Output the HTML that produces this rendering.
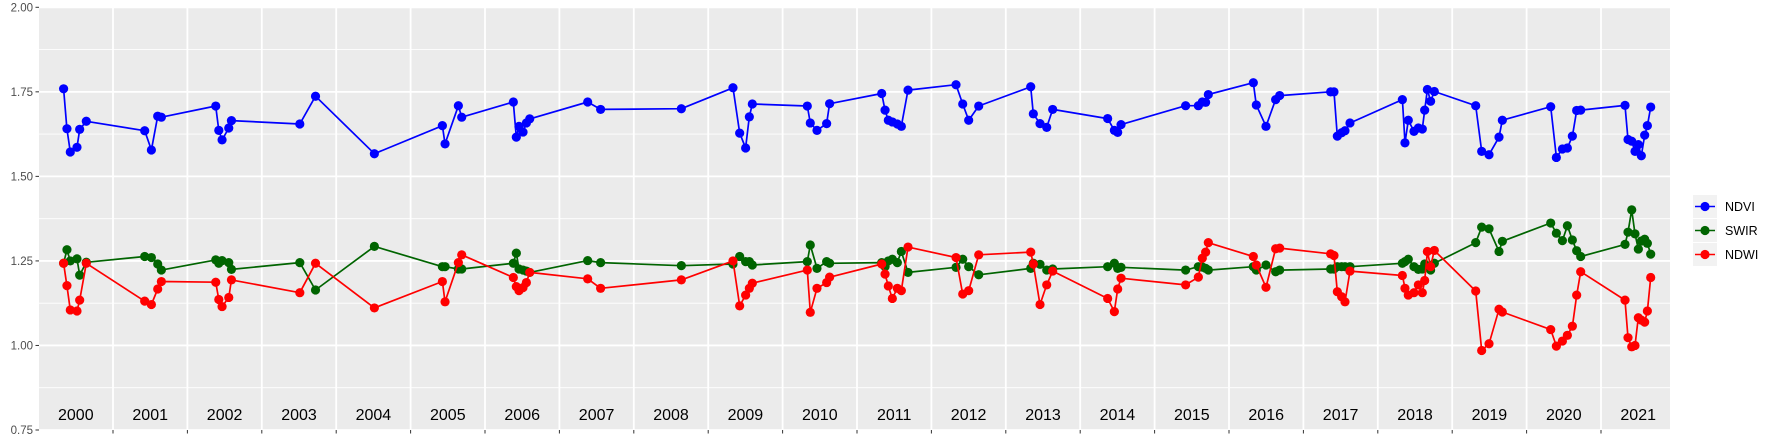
<!DOCTYPE html>
<html><head><meta charset="utf-8"><style>
html,body{margin:0;padding:0;background:#fff;}
svg{display:block;font-family:"Liberation Sans",Arial,sans-serif;}
</style></head><body>
<svg id="chart" width="1773" height="442" viewBox="0 0 1773 442" xmlns="http://www.w3.org/2000/svg">
<rect x="39" y="7.3" width="1631" height="422.7" fill="#ebebeb"/>
<g id="grid"></g>
<g id="yaxis"></g>
<g id="xaxis"></g>
<g id="series"></g>
<g>
  <g>
    <rect x="1693" y="195" width="24" height="23" fill="#f2f2f2"/>
    <line x1="1695" y1="206.5" x2="1715" y2="206.5" stroke="#0000ff" stroke-width="1.6"/>
    <circle cx="1705" cy="206.5" r="4.6" fill="#0000ff"/>
    <text x="1725" y="211" font-size="12.5" fill="#000">NDVI</text>
  </g>
  <g>
    <rect x="1693" y="219" width="24" height="23" fill="#f2f2f2"/>
    <line x1="1695" y1="230.5" x2="1715" y2="230.5" stroke="#006400" stroke-width="1.6"/>
    <circle cx="1705" cy="230.5" r="4.6" fill="#006400"/>
    <text x="1725" y="235" font-size="12.5" fill="#000">SWIR</text>
  </g>
  <g>
    <rect x="1693" y="243" width="24" height="23" fill="#f2f2f2"/>
    <line x1="1695" y1="254.5" x2="1715" y2="254.5" stroke="#ff0000" stroke-width="1.6"/>
    <circle cx="1705" cy="254.5" r="4.6" fill="#ff0000"/>
    <text x="1725" y="259" font-size="12.5" fill="#000">NDWI</text>
  </g>
</g>
</svg>
<script>
const dates = [2000.336,2000.381,2000.426,2000.516,2000.552,2000.641,
2001.426,2001.516,2001.601,2001.650,
2002.381,2002.422,2002.466,2002.556,2002.592,
2003.511,2003.722,
2004.513,
2005.427,2005.463,2005.642,2005.687,
2006.381,2006.421,2006.457,2006.511,2006.556,2006.601,
2007.380,2007.554,
2008.639,
2009.333,2009.423,2009.503,2009.553,2009.593,
2010.332,2010.372,2010.462,2010.592,2010.632,
2011.332,2011.377,2011.421,2011.475,2011.542,2011.596,2011.686,
2012.331,2012.421,2012.501,2012.636,
2013.335,2013.370,2013.460,2013.550,2013.630,
2014.369,2014.459,2014.504,2014.549,
2015.417,2015.588,2015.641,2015.686,2015.722,
2016.327,2016.367,2016.497,2016.627,2016.681,
2017.366,2017.411,2017.456,2017.514,2017.559,2017.626,
2018.330,2018.365,2018.410,2018.486,2018.545,2018.598,2018.630,2018.666,2018.710,2018.760,
2019.316,2019.396,2019.495,2019.629,2019.674,
2020.324,2020.400,2020.481,2020.548,2020.615,2020.673,2020.727,
2021.323,2021.363,2021.413,2021.457,2021.502,2021.542,2021.587,2021.623,2021.668];
const ndvi = [1.759,1.641,1.572,1.586,1.639,1.663,
1.635,1.578,1.678,1.675,
1.708,1.636,1.608,1.643,1.665,
1.655,1.737,
1.567,
1.650,1.596,1.709,1.675,
1.720,1.616,1.648,1.631,1.658,1.670,
1.720,1.698,
1.700,
1.762,1.628,1.584,1.676,1.714,
1.708,1.658,1.636,1.656,1.715,
1.745,1.696,1.666,1.661,1.655,1.648,1.755,
1.771,1.714,1.666,1.708,
1.765,1.685,1.656,1.645,1.698,
1.671,1.636,1.630,1.653,
1.709,1.709,1.720,1.719,1.742,
1.777,1.711,1.648,1.727,1.739,
1.750,1.750,1.619,1.629,1.635,1.658,
1.727,1.599,1.666,1.633,1.643,1.640,1.696,1.757,1.722,1.751,
1.709,1.574,1.564,1.616,1.666,
1.706,1.556,1.581,1.584,1.619,1.695,1.696,
1.710,1.609,1.604,1.574,1.594,1.561,1.622,1.650,1.705];
const swir = [1.243,1.283,1.250,1.256,1.208,1.246,
1.263,1.260,1.241,1.223,
1.253,1.243,1.251,1.245,1.225,
1.245,1.164,
1.293,
1.233,1.233,1.226,1.226,
1.243,1.273,1.226,1.223,1.220,1.216,
1.251,1.245,
1.236,
1.241,1.263,1.248,1.248,1.238,
1.248,1.297,1.228,1.248,1.243,
1.245,1.233,1.250,1.255,1.245,1.278,1.216,
1.231,1.255,1.233,1.209,
1.228,1.243,1.240,1.223,1.226,
1.233,1.243,1.228,1.231,
1.223,1.233,1.232,1.228,1.223,
1.233,1.223,1.238,1.218,1.223,
1.226,1.226,1.233,1.233,1.233,1.233,
1.243,1.248,1.255,1.233,1.225,1.226,1.241,1.232,1.223,1.243,
1.304,1.350,1.345,1.278,1.308,
1.362,1.332,1.310,1.354,1.312,1.280,1.263,
1.299,1.335,1.401,1.330,1.285,1.309,1.314,1.302,1.270];
const ndwi = [1.243,1.177,1.105,1.102,1.134,1.243,
1.131,1.121,1.167,1.189,
1.187,1.136,1.115,1.142,1.194,
1.156,1.243,
1.111,
1.189,1.129,1.245,1.268,
1.201,1.174,1.162,1.171,1.186,1.216,
1.197,1.169,
1.194,
1.250,1.117,1.149,1.169,1.184,
1.223,1.098,1.169,1.186,1.202,
1.241,1.211,1.176,1.139,1.169,1.162,1.291,
1.260,1.152,1.162,1.268,
1.276,1.241,1.121,1.179,1.220,
1.139,1.100,1.167,1.199,
1.179,1.202,1.258,1.276,1.304,
1.263,1.238,1.172,1.286,1.288,
1.271,1.266,1.159,1.144,1.129,1.220,
1.207,1.169,1.149,1.156,1.179,1.156,1.192,1.278,1.233,1.281,
1.161,0.985,1.005,1.107,1.099,
1.047,0.998,1.013,1.030,1.057,1.149,1.218,
1.134,1.023,0.996,1.000,1.082,1.075,1.069,1.102,1.201];
const yearLabels = ["2000","2001","2002","2003","2004","2005","2006","2007","2008","2009","2010","2011","2012","2013","2014","2015","2016","2017","2018","2019","2020","2021"];
const yTicks = [0.75,1.00,1.25,1.50,1.75,2.00];
const yMinor = [0.875,1.125,1.375,1.625,1.875];

const NS="http://www.w3.org/2000/svg";
const X0=38.6, PXY=74.4, PL=39, PR=1670, PT=7.3, PB=430;
function xs(t){return X0+(t-2000)*PXY;}
function ys(v){return PT+(2-v)*(PB-PT)/1.25;}
function mk(tag,attrs,parent){const e=document.createElementNS(NS,tag);for(const k in attrs)e.setAttribute(k,attrs[k]);parent.appendChild(e);return e;}

const grid=document.getElementById('grid');
yMinor.forEach(v=>{
  const l=mk('line',{x1:PL,x2:PR,y1:ys(v),y2:ys(v),stroke:'#fff','stroke-width':0.9},grid);
  
  
});
yTicks.forEach(v=>{
  const l=mk('line',{x1:PL,x2:PR,y1:ys(v),y2:ys(v),stroke:'#fff','stroke-width':1.8},grid);
  
  
});
for(let i=1;i<yearLabels.length;i++){
  const x=xs(2000+i);
  const l=mk('line',{x1:x,x2:x,y1:PT,y2:PB,stroke:'#fff','stroke-width':1.8},grid);
  
  
}
const yaxis=document.getElementById('yaxis');
yTicks.forEach(v=>{
  const t=mk('line',{x1:35.5,x2:39,y1:ys(v),y2:ys(v),stroke:'#333','stroke-width':1},yaxis);
  
  
  const tx=mk('text',{x:33,y:ys(v)+4,'text-anchor':'end','font-size':11.5,fill:'#4d4d4d'},yaxis);
  tx.textContent=v.toFixed(2);
  
  
});
const xaxis=document.getElementById('xaxis');
yearLabels.forEach((lab,i)=>{
  const tx=mk('text',{x:xs(2000+i+0.5),y:420,'text-anchor':'middle','font-size':16,fill:'#000'},xaxis);
  tx.textContent=lab;
  
  
  if(i>0){
    const t=mk('line',{x1:xs(2000+i),x2:xs(2000+i),y1:PB,y2:PB+3.5,stroke:'#333','stroke-width':1},xaxis);
    
    
  }
});
const series=document.getElementById('series');
function draw(vals,color,name){
  const g=mk('g',{},series);
  
  
  const pts=dates.map((d,i)=>xs(d).toFixed(1)+','+ys(vals[i]).toFixed(1)).join(' ');
  const pl=mk('polyline',{points:pts,fill:'none',stroke:color,'stroke-width':1.7,'stroke-linejoin':'round'},g);
  
  
  dates.forEach((d,i)=>{
    const c=mk('circle',{cx:xs(d),cy:ys(vals[i]),r:4.6,fill:color},g);
    
    
  });
}
draw(ndvi,'#0000ff','ndvi');
draw(swir,'#006400','swir');
draw(ndwi,'#ff0000','ndwi');
</script>
</body></html>
